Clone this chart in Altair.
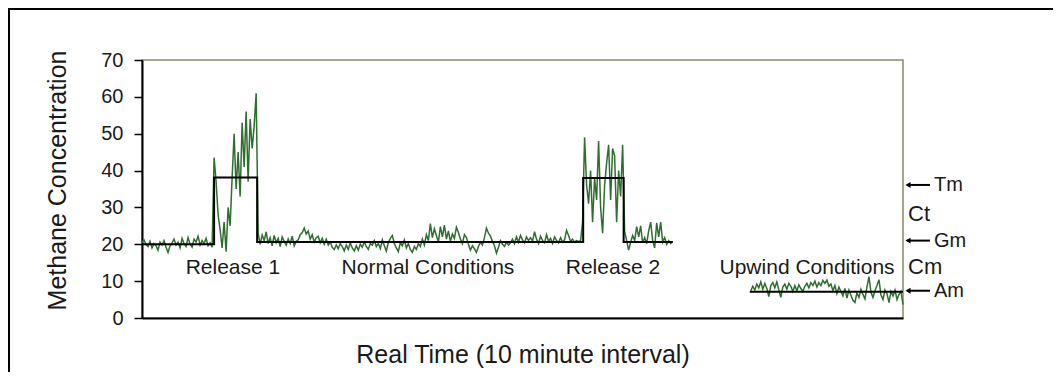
import altair as alt
import pandas as pd

# ---- data (time step index, methane concentration) ----
pre_release = [20.5, 21.2, 20.0, 19.4, 20.8, 19.0, 20.2, 19.6, 18.4, 20.6,
               19.8, 21.0, 19.2, 17.8, 19.6, 20.4, 21.4, 19.8, 20.6, 19.0,
               21.6, 20.2, 19.4, 21.8, 20.0, 19.2, 21.4, 20.6, 22.2, 19.8,
               21.0, 20.2, 21.6, 19.6, 20.4, 19.2]
release1 = [43.5, 37, 28, 24, 19, 26, 18, 30, 25, 38, 50, 35, 45, 33, 53, 41,
            56, 37, 54, 46, 52, 61]
normal = [23, 20, 22.5, 21, 23.4, 20.2, 21.8, 19.6, 22.4, 20.4,
          21.6, 19.4, 22, 20.8, 19.8, 21.4, 20.2, 22.2, 19.6, 20.8,
          21.2, 22.6, 23.2, 24.4, 22.8, 23.6, 21.4, 22.6, 20.6, 21.8,
          22.2, 20.4, 21.6, 20, 21.4, 19.8, 20.6, 19.2, 18.6, 19.8,
          18.8, 20.2, 19.4, 18.2, 19.8, 18.6, 20.4, 19, 18.2, 19.6,
          18.4, 20, 19.2, 20.6, 19.4, 18.6, 20.2, 19.8, 21, 19.4,
          20.2, 18.8, 21.2, 19.6, 18.2, 20.4, 21.6, 22.4, 20.2, 19,
          18, 20.4, 19.6, 21.2, 19, 20.2, 18.6, 17.8, 19.4, 18.6,
          20.2, 19.4, 21.4, 19.8, 22.6, 21, 25.6, 21.8, 24.2, 22.4,
          20.6, 24.8, 22, 25.2, 21.4, 23.6, 20.8, 22.8, 21.6, 24.6,
          23.2, 21.4, 20.2, 22.6, 21.8, 20, 18.4, 19.6, 18.8, 17.8,
          19.4, 20.6, 19.8, 21.8, 24.4, 23, 22.2, 20.8, 19.6, 17.6,
          19.2, 21, 20, 19.4, 20.6, 19.8, 20.4, 21.4, 20.2, 22,
          20.6, 22.4, 21.2, 20.4, 22, 21, 21.8, 20.8, 23.4, 21.4,
          20.2, 22.2, 21, 20.4, 22.6, 20.8, 21.6, 20.2, 22, 21,
          20.4, 21.8, 20.6, 21.2, 23.8, 22.4, 20.8, 21.4, 20.6, 21, 20.8, 21]
release2 = [26, 49, 36, 31, 40, 26, 38, 32, 48, 30, 23, 36, 42, 47, 32, 46,
            44, 26, 40, 33, 47]
post_release2 = [23.5, 21, 18.4, 20.6, 22.4, 21, 24.8, 22, 25, 20.4, 21.8,
                 20.2, 23.6, 26, 21, 19, 25.8, 22, 26, 20.6, 21.8, 20, 21,
                 20.2, 20.8]
upwind = [7.4, 8.6, 7.6, 9.2, 8.2, 9.8, 7.8, 9.4, 8, 5.8, 8.8, 9.6, 8.2, 9.8,
          7.6, 5.6, 8.4, 9.2, 7.8, 9.4, 8.6, 7.2, 8.8, 7.4, 9, 8, 7.2, 8.6,
          9.4, 8.2, 9.6, 8.8, 10, 8.4, 9.6, 8.8, 10.2, 9.4, 10.3, 8.6, 9.2,
          7.4, 8.8, 6.6, 8.4, 7.2, 6, 8, 5.4, 7.6, 6.2, 4.8, 4.2, 6.8, 5.6,
          7.8, 6.4, 5.2, 8.4, 11.2, 7, 5.6, 7.4, 8.8, 10.4, 6.2, 5, 7.6, 6.6,
          4.2, 7.2, 6, 7.6, 5, 6.4, 7.2, 3.6]
upwind_start = 304

# averaged step line
step_x = [0, 36, 36, 57.5, 57.5, 220.3, 220.3, 240.5, 240.5, 265, 303.5, 380]
step_y = [20.0, 20.0, 38.1, 38.1, 20.6, 20.6, 38.0, 38.0, 20.6, 20.6, 7.1, 7.1]
step_seg = ["a"] * 10 + ["b"] * 2

region_labels = ["Release 1", "Normal Conditions", "Release 2", "Upwind Conditions"]
region_x = [45.4, 142.8, 235.2, 332.1]
region_y = [13.6, 13.6, 13.6, 13.6]

marker_names = ["Tm", "Gm", "Am"]
marker_y = [36.1, 21.0, 7.4]
gap_names = ["Ct", "Cm"]
gap_y = [28.2, 13.8]

y_ticks = [0, 10, 20, 30, 40, 50, 60, 70]

# ---- build tables ----
main_vals = pre_release + release1 + normal + release2 + post_release2
rows = [{"t": i, "v": v, "seg": "main"} for i, v in enumerate(main_vals)]
rows += [{"t": upwind_start + i, "v": v, "seg": "upwind"} for i, v in enumerate(upwind)]
green_df = pd.DataFrame(rows)
step_df = pd.DataFrame({"t": step_x, "v": step_y, "seg": step_seg,
                        "o": list(range(len(step_x)))})
label_df = pd.DataFrame({"t": region_x, "v": region_y, "label": region_labels})
marker_df = pd.DataFrame({"name": marker_names, "v": marker_y})
gap_df = pd.DataFrame({"name": gap_names, "v": gap_y})
one = pd.DataFrame({"k": [0]})

FONT = "Liberation Sans"
TXT = "#1a1a1a"

xs = alt.Scale(domain=[0, 380], nice=False, zero=False)
ys = alt.Scale(domain=[0, 70], nice=False)

x_axis = alt.Axis(title="Real Time (10 minute interval)", ticks=False, labels=False,
                  grid=False, domainColor="black", domainWidth=2,
                  titleFont=FONT, titleFontSize=25, titleFontWeight="normal",
                  titleColor=TXT, titleY=44, titleBaseline="alphabetic")
y_axis = alt.Axis(title="Methane Concentration", values=y_ticks, grid=False,
                  labelOverlap=False, tickCount=8,
                  domainColor="black", domainWidth=2, tickColor="black",
                  tickWidth=1.5, tickSize=8, labelPadding=11,
                  labelFont=FONT, labelFontSize=20, labelColor=TXT,
                  titleFont=FONT, titleFontSize=25, titleFontWeight="normal",
                  titleColor=TXT, titleX=-77, titleY=120, titleAngle=-90,
                  titleAlign="center", titleBaseline="alphabetic")

X = alt.X("t:Q", scale=xs, axis=x_axis)
Y = alt.Y("v:Q", scale=ys, axis=y_axis)

green = alt.Chart(green_df).mark_line(color="#2e6e2e", strokeWidth=1.5).encode(
    x=X, y=Y, detail="seg:N",
)

steps = alt.Chart(step_df).mark_line(color="black", strokeWidth=2).encode(
    x=X, y=Y, detail="seg:N", order="o:Q",
)

labels = alt.Chart(label_df).mark_text(font=FONT, fontSize=21, color=TXT,
                                        align="center", baseline="middle").encode(
    x=X, y=Y, text="label:N",
)

arrows = alt.Chart(marker_df).mark_rule(color="black", strokeWidth=2).encode(
    x=alt.value(765), x2=alt.value(788), y=Y,
)
heads = alt.Chart(marker_df).mark_point(shape="triangle-left", filled=True,
                                        color="black", size=35, opacity=1).encode(
    x=alt.value(766), y=Y,
)
marker_text = alt.Chart(marker_df).mark_text(font=FONT, fontSize=20, color=TXT,
                                              align="left", baseline="middle").encode(
    x=alt.value(792), y=Y, text="name:N",
)
gap_text = alt.Chart(gap_df).mark_text(font=FONT, fontSize=22, color=TXT,
                                       align="left", baseline="middle").encode(
    x=alt.value(766), y=Y, text="name:N",
)

frame_left = alt.Chart(one).mark_rule(color="black", strokeWidth=2).encode(
    x=alt.value(-133), y=alt.value(-52), y2=alt.value(320),
)
frame_top = alt.Chart(one).mark_rule(color="black", strokeWidth=2).encode(
    x=alt.value(-134), x2=alt.value(920), y=alt.value(-51),
)

chart = alt.layer(green, steps, labels, arrows, heads, marker_text, gap_text,
                  frame_left, frame_top).properties(
    width=761, height=258,
    autosize=alt.AutoSizeParams(type="none"),
    padding={"left": 134, "top": 52, "right": 150, "bottom": 54},
    background="white",
).configure_view(stroke="#8a8a62", strokeWidth=1.5)

chart.save("out.html", embed_options={"renderer": "svg", "actions": False})
